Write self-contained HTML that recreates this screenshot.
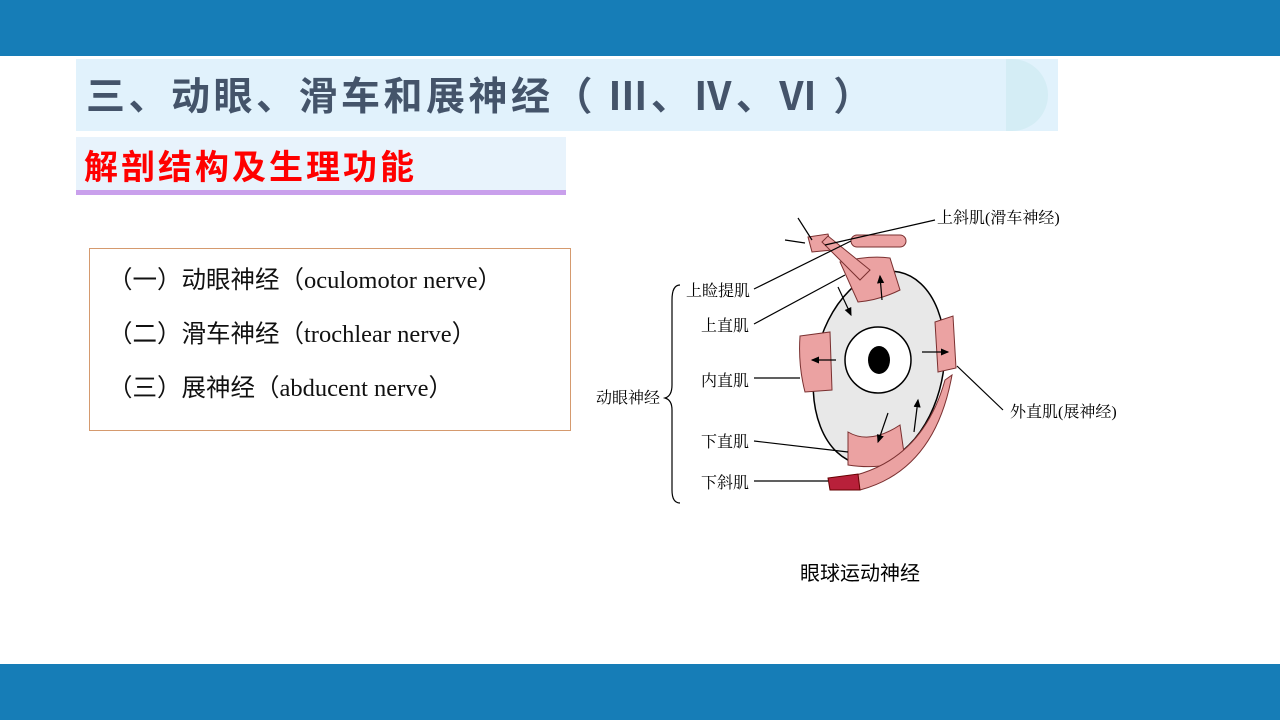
<!DOCTYPE html>
<html><head><meta charset="utf-8"><style>
body{margin:0;width:1280px;height:720px;position:relative;background:#fff;overflow:hidden;font-family:"Liberation Sans","Noto Sans CJK SC",sans-serif}
.bar{position:absolute;left:0;width:1280px;background:#167db7}
.t{position:absolute;white-space:nowrap}
.li{position:absolute;white-space:nowrap;left:108px;font-size:24.5px;line-height:34px;color:#111;font-family:'Liberation Serif','Noto Sans CJK SC',serif}
</style></head><body>
<div class="bar" style="top:0;height:56px"></div>
<div class="bar" style="top:664px;height:56px"></div>
<div style="position:absolute;left:76px;top:59px;width:982px;height:72px;background:#e1f2fc"></div>
<div style="position:absolute;left:1006px;top:59px;width:42px;height:72px;background:#d4edf5;border-radius:0 40px 40px 0"></div>
<div class="t" style="left:86px;top:68px;font-size:39px;letter-spacing:3.5px;font-weight:bold;color:#44546a;font-family:'Noto Sans CJK SC',sans-serif;line-height:52px">三、动眼、滑车和展神经（ Ⅲ、Ⅳ、Ⅵ ）</div>
<div style="position:absolute;left:76px;top:137px;width:490px;height:55px;background:#e8f3fc"></div>
<div style="position:absolute;left:76px;top:190px;width:490px;height:5px;background:#c9a0ec"></div>
<div class="t" style="left:84px;top:142px;font-size:34px;letter-spacing:3px;font-weight:bold;color:#f00;font-family:'Noto Sans CJK SC',sans-serif;line-height:46px">解剖结构及生理功能</div>
<div style="position:absolute;left:89px;top:248px;width:480px;height:181px;border:1px solid #d59a6e"></div>
<div class="li" style="top:264px">（一）动眼神经（oculomotor nerve）</div>
<div class="li" style="top:318px">（二）滑车神经（trochlear nerve）</div>
<div class="li" style="top:372px">（三）展神经（abducent nerve）</div>
<svg width="1280" height="720" style="position:absolute;left:0;top:0" font-family="'Liberation Serif','Noto Serif CJK SC',serif" font-size="16">
<defs><marker id="a" markerWidth="8" markerHeight="8" refX="6" refY="3" orient="auto"><path d="M0,0L7,3L0,6z" fill="#000"/></marker></defs>
<ellipse cx="879" cy="368" rx="64" ry="98" transform="rotate(12 879 368)" fill="#e8e8e8" stroke="#000" stroke-width="1.5"/>
<circle cx="878" cy="360" r="33" fill="#fff" stroke="#000" stroke-width="1.5"/>
<ellipse cx="879" cy="360" rx="11" ry="14" fill="#000"/>
<g fill="#eba2a2" stroke="#7a3030" stroke-width="1">
<path d="M840,262 Q870,255 890,258 L900,290 Q880,300 858,302 Z"/>
<path d="M800,336 L830,332 L832,390 L805,392 Q798,365 800,336Z"/>
<path d="M935,322 L953,316 L956,368 L938,372Z"/>
<path d="M848,432 Q870,445 900,425 L905,460 Q880,470 848,465Z"/>
<path d="M830,480 Q920,470 945,380 L952,375 Q935,470 860,490Z"/>
<path d="M808,237 L828,234 L832,250 L812,252Z"/>
<path d="M822,242 L860,280 L870,270 L828,236Z"/>
<rect x="851" y="235" width="55" height="12" rx="6"/>
</g>
<path d="M828,478 L858,474 L860,490 L830,490Z" fill="#b8203a" stroke="#600" />
<g stroke="#000" stroke-width="1.2" fill="none">
<path d="M825,245 L935,220"/><path d="M754,289 L851,241"/><path d="M754,324 L845,275"/>
<path d="M754,378 L800,378"/><path d="M754,441 L848,452"/><path d="M754,481 L828,481"/>
<path d="M957,366 L1003,410"/>
<path d="M680,285 Q672,285 672,300 L672,385 Q672,396 665,398 Q672,400 672,410 L672,490 Q672,503 680,503"/>
<path d="M798,218 L812,240"/><path d="M785,240 L805,243"/>
</g>
<g stroke="#000" stroke-width="1.2" marker-end="url(#a)">
<line x1="838" y1="287" x2="851" y2="315"/><line x1="882" y1="300" x2="880" y2="276"/>
<line x1="836" y1="360" x2="812" y2="360"/><line x1="922" y1="352" x2="948" y2="352"/>
<line x1="888" y1="413" x2="878" y2="442"/><line x1="914" y1="432" x2="918" y2="400"/>
</g>
<g fill="#000">
<text x="937" y="223">上斜肌(滑车神经)</text>
<text x="686" y="296">上睑提肌</text><text x="701" y="331">上直肌</text>
<text x="701" y="386">内直肌</text><text x="701" y="447">下直肌</text><text x="701" y="488">下斜肌</text>
<text x="596" y="403">动眼神经</text>
<text x="1010" y="417">外直肌(展神经)</text>
</g>
<text x="800" y="580" font-size="20" font-family="'Liberation Sans','Noto Sans CJK SC',sans-serif">眼球运动神经</text>
</svg>
</body></html>
